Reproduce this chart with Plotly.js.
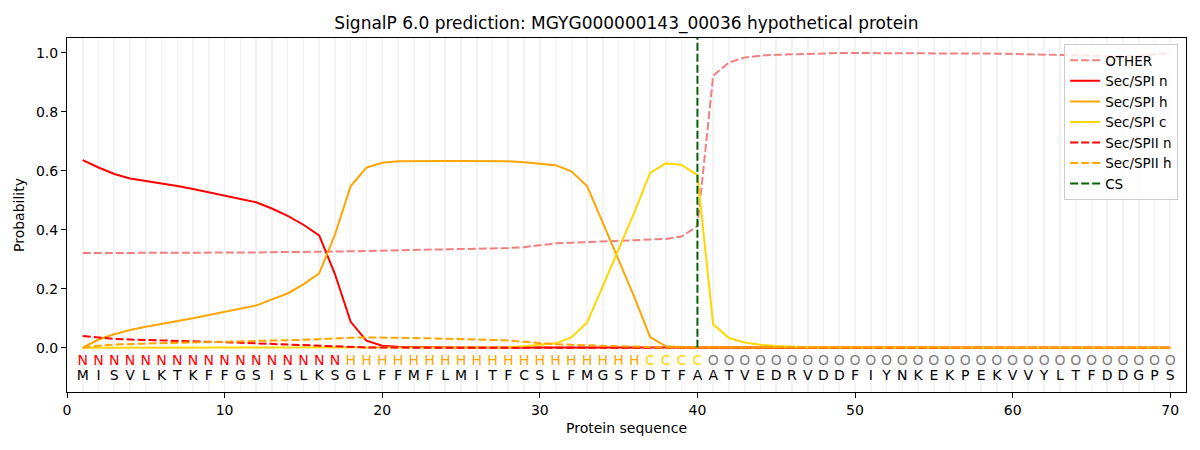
<!DOCTYPE html>
<html>
<head>
<meta charset="utf-8">
<script src="https://cdn.plot.ly/plotly-3.0.1.min.js"></script>
<style>
  html, body { margin: 0; padding: 0; background: #fff; }
  #plot { width: 1200px; height: 450px; }
</style>
</head>
<body>
<div id="plot"></div>
<script>
// sequence and predicted region per residue
const residues = "MISVLKTKFFGSISLKSGLFFMFLMITFCSLFMGSFDTFAATVEDRVDDFIYNKEKPEKVVYLTFDDGPS".split("");
const regions = "NNNNNNNNNNNNNNNNNHHHHHHHHHHHHHHHHHHHCCCCOOOOOOOOOOOOOOOOOOOOOOOOOOOOOO".split("");
const positions = residues.map((_, i) => i + 1);
const csPos = 40;

const other = [
	0.321, 0.321, 0.321, 0.321, 0.321, 0.322, 0.322, 0.322, 0.322, 0.323,
	0.323, 0.323, 0.324, 0.324, 0.325, 0.325, 0.326, 0.327, 0.328, 0.329,
	0.330, 0.331, 0.332, 0.333, 0.334, 0.335, 0.337, 0.338, 0.341, 0.348,
	0.354, 0.356, 0.358, 0.361, 0.363, 0.365, 0.367, 0.369, 0.377, 0.412,
	0.922, 0.967, 0.984, 0.990, 0.993, 0.995, 0.997, 0.998, 0.999, 0.999,
	0.999, 0.999, 0.999, 0.999, 0.999, 0.999, 0.998, 0.998, 0.997, 0.996,
	0.995, 0.993, 0.991, 0.990, 0.989, 0.988, 0.988, 0.990, 0.995, 0.999,
];
const spiN = [
	0.636, 0.611, 0.589, 0.574, 0.565, 0.557, 0.548, 0.538, 0.527, 0.516,
	0.506, 0.493, 0.472, 0.447, 0.417, 0.381, 0.250, 0.088, 0.024, 0.007,
	0.003, 0.002, 0.002, 0.001, 0.001, 0.001, 0.001, 0.001, 0.001, 0.001,
	0.001, 0.001, 0.001, 0.001, 0.001, 0, 0, 0, 0, 0,
	0, 0, 0, 0, 0, 0, 0, 0, 0, 0,
	0, 0, 0, 0, 0, 0, 0, 0, 0, 0,
	0, 0, 0, 0, 0, 0, 0, 0, 0, 0,
];
const spiH = [
	0.000, 0.028, 0.046, 0.060, 0.071, 0.080, 0.090, 0.100, 0.111, 0.121,
	0.131, 0.143, 0.164, 0.184, 0.215, 0.252, 0.383, 0.548, 0.611, 0.627,
	0.632, 0.633, 0.633, 0.633, 0.633, 0.633, 0.633, 0.632, 0.629, 0.625,
	0.619, 0.598, 0.548, 0.423, 0.298, 0.172, 0.036, 0.005, 0.002, 0.001,
	0, 0, 0, 0, 0, 0, 0, 0, 0, 0,
	0, 0, 0, 0, 0, 0, 0, 0, 0, 0,
	0, 0, 0, 0, 0, 0, 0, 0, 0, 0,
];
const spiC = [
	0, 0, 0, 0, 0, 0, 0, 0, 0, 0,
	0, 0, 0, 0, 0, 0, 0, 0, 0, 0,
	0, 0, 0, 0, 0, 0, 0.001, 0.002, 0.005, 0.010,
	0.015, 0.035, 0.086, 0.209, 0.333, 0.459, 0.593, 0.625, 0.620, 0.585,
	0.080, 0.033, 0.018, 0.010, 0.006, 0.003, 0.002, 0.001, 0, 0,
	0, 0, 0, 0, 0, 0, 0, 0, 0, 0,
	0, 0, 0, 0, 0, 0, 0, 0, 0, 0,
];
const spiiN = [
	0.040, 0.034, 0.030, 0.028, 0.026, 0.024, 0.022, 0.021, 0.020, 0.019,
	0.017, 0.016, 0.014, 0.012, 0.010, 0.008, 0.005, 0.002, 0.001, 0.001,
	0, 0, 0, 0, 0, 0, 0, 0, 0, 0,
	0, 0, 0, 0, 0, 0, 0, 0, 0, 0,
	0, 0, 0, 0, 0, 0, 0, 0, 0, 0,
	0, 0, 0, 0, 0, 0, 0, 0, 0, 0,
	0, 0, 0, 0, 0, 0, 0, 0, 0, 0,
];
const spiiH = [
	0.000, 0.007, 0.011, 0.013, 0.015, 0.016, 0.017, 0.018, 0.019, 0.020,
	0.021, 0.022, 0.024, 0.025, 0.027, 0.029, 0.032, 0.034, 0.035, 0.035,
	0.034, 0.033, 0.032, 0.031, 0.030, 0.029, 0.027, 0.025, 0.020, 0.015,
	0.012, 0.010, 0.008, 0.006, 0.004, 0.003, 0.002, 0.001, 0.001, 0,
	0, 0, 0, 0, 0, 0, 0, 0, 0, 0,
	0, 0, 0, 0, 0, 0, 0, 0, 0, 0,
	0, 0, 0, 0, 0, 0, 0, 0, 0, 0,
];

const regionColors = { N: "red", H: "orange", C: "gold", O: "gray" };
const FONT = "DejaVu Sans, sans-serif";
const yRange = [-0.15, 1.05];
const DASH = "8px,3px";

const line = (name, y, color, dash) => ({
	x: positions,
	y: y,
	name: name,
	type: "scatter",
	mode: "lines",
	line: { color: color, width: 2, dash: dash || "solid" },
	hoverinfo: "skip",
});

const traces = [
	line("OTHER", other, "rgba(240,128,128,1)", DASH),
	line("Sec/SPI n", spiN, "red"),
	line("Sec/SPI h", spiH, "orange"),
	line("Sec/SPI c", spiC, "gold"),
	line("Sec/SPII n", spiiN, "red", DASH),
	line("Sec/SPII h", spiiH, "orange", DASH),
	{
		x: [csPos, csPos],
		y: [0, yRange[1]],
		name: "CS",
		type: "scatter",
		mode: "lines",
		line: { color: "darkgreen", width: 2, dash: DASH },
		hoverinfo: "skip",
	},
	{
		x: positions,
		y: positions.map(() => -0.048),
		text: regions,
		type: "scatter",
		mode: "text",
		textfont: { family: FONT, size: 14, color: regions.map((r) => regionColors[r]) },
		showlegend: false,
		hoverinfo: "skip",
		cliponaxis: false,
	},
	{
		x: positions,
		y: positions.map(() => -0.099),
		text: residues,
		type: "scatter",
		mode: "text",
		textfont: { family: FONT, size: 14, color: "black" },
		showlegend: false,
		hoverinfo: "skip",
		cliponaxis: false,
	},
];

const layout = {
	width: 1200,
	height: 450,
	margin: { l: 67, r: 14, t: 38, b: 58 },
	paper_bgcolor: "white",
	plot_bgcolor: "white",
	font: { family: FONT, size: 14, color: "black" },
	title: {
		text: "SignalP 6.0 prediction: MGYG000000143_00036 hypothetical protein",
		font: { family: FONT, size: 17, color: "black" },
		x: 0.5,
		xref: "paper",
		y: 1 - 23 / 450,
		yref: "container",
		yanchor: "middle",
	},
	xaxis: {
		range: [0, 71],
		tickvals: [0, 10, 20, 30, 40, 50, 60, 70],
		ticks: "outside",
		ticklen: 5,
		tickwidth: 1,
		tickcolor: "black",
		showline: true,
		mirror: true,
		linecolor: "black",
		linewidth: 1,
		zeroline: false,
		showgrid: false,
		minor: { dtick: 1, tick0: 0, showgrid: true, gridcolor: "#f3f3f3", gridwidth: 1.6 },
		title: { text: "Protein sequence", font: { family: FONT, size: 14 }, standoff: 6 },
		tickfont: { family: FONT, size: 14 },
	},
	yaxis: {
		range: yRange,
		tickvals: [0, 0.2, 0.4, 0.6, 0.8, 1.0],
		tickformat: ".1f",
		ticks: "outside",
		ticklen: 5,
		tickwidth: 1,
		tickcolor: "black",
		showline: true,
		mirror: true,
		linecolor: "black",
		linewidth: 1,
		zeroline: false,
		showgrid: false,
		title: { text: "Probability", font: { family: FONT, size: 14 }, standoff: 8 },
		tickfont: { family: FONT, size: 14 },
	},
	legend: {
		x: 0.993,
		y: 0.983,
		xanchor: "right",
		yanchor: "top",
		bgcolor: "rgba(255,255,255,0.8)",
		bordercolor: "#cccccc",
		borderwidth: 1,
		font: { family: FONT, size: 13.5, color: "black" },
		itemwidth: 30,
		tracegroupgap: 0,
	},
	showlegend: true,
};

Plotly.newPlot("plot", traces, layout, { displayModeBar: false, staticPlot: true });
</script>
</body>
</html>
